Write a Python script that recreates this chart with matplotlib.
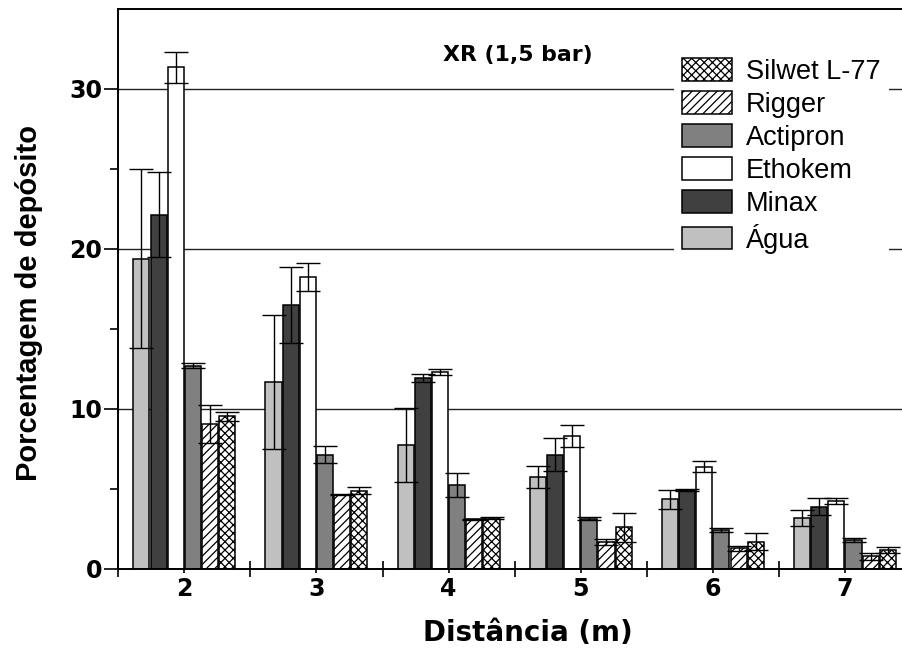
import matplotlib
matplotlib.use("Agg")
import matplotlib.pyplot as plt
from matplotlib.ticker import FixedLocator, NullFormatter
from matplotlib.patches import Patch
import numpy as np

plt.rcParams['hatch.linewidth'] = 0.9

# ---- data ----
distances = [2, 3, 4, 5, 6, 7]
series_names = ["Água", "Minax", "Ethokem", "Actipron", "Rigger", "Silwet L-77"]
agua = [19.4, 11.7, 7.75, 5.75, 4.35, 3.2]
agua_err = [5.6, 4.2, 2.3, 0.7, 0.57, 0.5]
minax = [22.15, 16.5, 11.95, 7.15, 4.95, 3.9]
minax_err = [2.65, 2.4, 0.25, 1.05, 0.05, 0.53]
ethokem = [31.35, 18.25, 12.3, 8.3, 6.4, 4.25]
ethokem_err = [0.95, 0.85, 0.17, 0.7, 0.33, 0.2]
actipron = [12.7, 7.15, 5.25, 3.15, 2.45, 1.8]
actipron_err = [0.15, 0.53, 0.76, 0.1, 0.13, 0.12]
rigger = [9.05, 4.65, 3.1, 1.7, 1.3, 0.8]
rigger_err = [1.2, 0.05, 0.05, 0.2, 0.15, 0.23]
silwet = [9.55, 4.9, 3.2, 2.6, 1.7, 1.2]
silwet_err = [0.27, 0.2, 0.08, 0.9, 0.52, 0.2]
y_ticks = [0, 10, 20, 30]

values = [agua, minax, ethokem, actipron, rigger, silwet]
errors = [agua_err, minax_err, ethokem_err, actipron_err, rigger_err, silwet_err]
colors = ["#c0c0c0", "#404040", "#ffffff", "#808080", "#ffffff", "#ffffff"]
hatches = [None, None, None, None, "////", "xxxx"]

W, H = 902, 653
fig = plt.figure(figsize=(W / 100, H / 100), dpi=100)
ax_left, ax_right = 118.3, 911.0
ax_bottom, ax_top = 569.0, 9.0
ax = fig.add_axes([ax_left / W, 1 - ax_bottom / H,
                   (ax_right - ax_left) / W, (ax_bottom - ax_top) / H])

slot = 0.13
bw = 0.122
x = np.array(distances, dtype=float)
handles = []
for i, (vals, errs) in enumerate(zip(values, errors)):
    xi = x + (i - 2.5) * slot
    ax.bar(xi, vals, width=bw, color=colors[i], edgecolor="black",
           linewidth=1.1, hatch=hatches[i], zorder=2)
    ax.errorbar(xi, vals, yerr=errs, fmt="none", ecolor="black",
                elinewidth=1.0, capsize=8.5, capthick=1.0, zorder=3)
    handles.append(Patch(facecolor=colors[i], edgecolor="black",
                         linewidth=1.1, hatch=hatches[i]))

for yv in [10, 20, 30]:
    ax.axhline(yv, color="#222222", linewidth=1.0, zorder=0)

ax.set_xlim(1.5, 7.5)
ax.set_ylim(0, 35)

# x ticks: major at group boundaries (no labels), minor at group centres (labels)
ax.xaxis.set_major_locator(FixedLocator(np.arange(1.5, 7.6, 1.0)))
ax.xaxis.set_major_formatter(NullFormatter())
ax.set_xticks(distances, [str(d) for d in distances], minor=True)
ax.tick_params(axis="x", which="major", direction="inout", length=12, width=1.2)
ax.tick_params(axis="x", which="minor", direction="out", length=3, width=1.2, pad=3)

ax.set_yticks(y_ticks, [str(v) for v in y_ticks])
ax.yaxis.set_minor_locator(FixedLocator([5, 15, 25]))
ax.tick_params(axis="y", which="major", direction="out", length=10, width=1.2, pad=1.5)
ax.tick_params(axis="y", which="minor", direction="out", length=6, width=1.2)

for lab in ax.get_xticklabels(minor=True) + ax.get_yticklabels():
    lab.set_fontfamily("DejaVu Sans")
    lab.set_fontweight("bold")
    lab.set_fontsize(17)

for s in ["left", "bottom", "top"]:
    ax.spines[s].set_linewidth(1.4)
ax.spines["right"].set_visible(False)

fig.text(528 / W, 1 - 633 / H, "Distância (m)", ha="center", va="center",
         fontfamily="DejaVu Sans", fontweight="bold", fontsize=20)
fig.text(29 / W, 1 - 303 / H, "Porcentagem de depósito", ha="center", va="center",
         rotation=90, fontfamily="Liberation Sans", fontweight="bold", fontsize=21)
fig.text(518 / W, 1 - 55 / H, "XR (1,5 bar)", ha="center", va="center",
         fontfamily="DejaVu Sans", fontweight="bold", fontsize=15.8)

leg = ax.legend(handles[::-1], series_names[::-1], loc="upper left",
                bbox_to_anchor=(674 / W, 1 - 50 / H), bbox_transform=fig.transFigure,
                prop={"family": "Liberation Sans", "size": 19.5},
                handlelength=1.85, handleheight=0.9, handletextpad=0.5,
                labelspacing=0.24, borderpad=0.3, borderaxespad=0,
                frameon=True, fancybox=False, framealpha=1.0)
leg.get_frame().set_facecolor("white")
leg.get_frame().set_edgecolor("none")
leg.set_zorder(5)

fig.savefig("out.png", dpi=100)
